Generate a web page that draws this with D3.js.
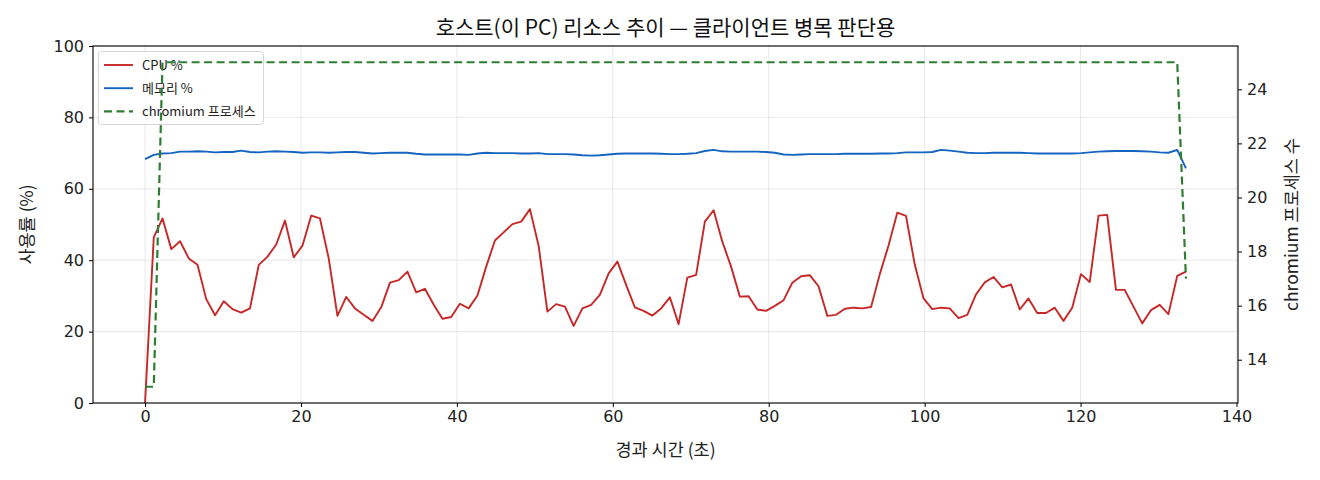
<!DOCTYPE html>
<html><head><meta charset="utf-8">
<script src="https://cdn.jsdelivr.net/npm/d3@7"></script>
<style>
html,body{margin:0;padding:0;background:#fff;}
svg{display:block;font-family:"Noto Sans CJK KR","Noto Sans",sans-serif;}
</style></head>
<body><svg id="c" width="1320" height="480"></svg>
<script>
// ---- data ----
const times = [0,1.12,2.24,3.37,4.49,5.61,6.73,7.85,8.98,10.10,11.22,12.34,13.46,14.59,15.71,16.83,17.95,19.07,20.20,21.32,
22.44,23.56,24.68,25.81,26.93,28.05,29.17,30.29,31.42,32.54,33.66,34.78,35.90,37.03,38.15,39.27,40.39,41.51,42.64,43.76,
44.88,46.00,47.12,48.25,49.37,50.49,51.61,52.73,53.86,54.98,56.10,57.22,58.34,59.47,60.59,61.71,62.83,63.95,65.08,66.20,
67.32,68.44,69.56,70.69,71.81,72.93,74.05,75.17,76.30,77.42,78.54,79.66,80.78,81.91,83.03,84.15,85.27,86.39,87.52,88.64,
89.76,90.88,92.00,93.13,94.25,95.37,96.49,97.61,98.74,99.86,100.98,102.10,103.22,104.35,105.47,106.59,107.71,108.83,109.96,111.08,
112.20,113.32,114.44,115.57,116.69,117.81,118.93,120.05,121.18,122.30,123.42,124.54,125.66,126.79,127.91,129.03,130.15,131.27,132.40,133.52];
const cpu = [0,46.4,51.7,43.1,45.3,40.5,38.7,29.1,24.6,28.5,26.3,25.3,26.5,38.7,41.0,44.4,51.1,40.8,44.1,52.5,
51.7,40.5,24.4,29.7,26.5,24.7,23.0,26.8,33.7,34.4,36.8,31.0,32.0,27.5,23.6,24.1,27.8,26.5,30.1,38.2,
45.5,47.8,50.1,50.8,54.3,44.0,25.6,27.7,27.0,21.6,26.5,27.5,30.3,36.3,39.6,33.1,26.8,25.8,24.5,26.5,
29.6,22.1,35.1,35.9,50.8,54.0,45.2,38.2,29.8,29.9,26.2,25.8,27.2,28.8,33.7,35.5,35.8,32.7,24.4,24.7,
26.4,26.7,26.5,26.9,36.1,44.1,53.3,52.4,38.7,29.3,26.3,26.7,26.5,23.8,24.7,30.4,33.8,35.3,32.4,33.2,
26.2,29.3,25.2,25.2,26.7,23.0,26.7,36.1,33.9,52.5,52.7,31.7,31.7,27.0,22.3,26.0,27.5,24.9,35.6,36.8];
const mem = [68.3,69.5,69.9,70.0,70.4,70.4,70.5,70.4,70.2,70.3,70.3,70.7,70.3,70.2,70.4,70.5,70.4,70.3,70.1,70.2,
70.2,70.1,70.2,70.3,70.3,70.1,69.9,70.0,70.1,70.1,70.1,69.8,69.6,69.6,69.6,69.6,69.6,69.5,69.9,70.1,
70.0,70.0,70.0,69.9,69.9,70.0,69.7,69.7,69.7,69.6,69.4,69.3,69.4,69.6,69.8,69.9,69.9,69.9,69.9,69.8,
69.7,69.7,69.8,70.0,70.6,70.9,70.5,70.4,70.4,70.4,70.4,70.3,70.1,69.6,69.5,69.6,69.7,69.7,69.7,69.7,
69.8,69.8,69.8,69.8,69.9,69.9,70.0,70.2,70.2,70.2,70.3,70.9,70.7,70.4,70.1,70.0,70.0,70.1,70.1,70.1,
70.1,70.0,69.9,69.9,69.9,69.9,69.9,70.0,70.2,70.4,70.5,70.6,70.6,70.6,70.5,70.4,70.2,70.1,70.9,65.7];
const chromium = [13,13,25,25,25,25,25,25,25,25,25,25,25,25,25,25,25,25,25,25,
25,25,25,25,25,25,25,25,25,25,25,25,25,25,25,25,25,25,25,25,
25,25,25,25,25,25,25,25,25,25,25,25,25,25,25,25,25,25,25,25,
25,25,25,25,25,25,25,25,25,25,25,25,25,25,25,25,25,25,25,25,
25,25,25,25,25,25,25,25,25,25,25,25,25,25,25,25,25,25,25,25,
25,25,25,25,25,25,25,25,25,25,25,25,25,25,25,25,25,25,25,17];
const xTicks = [0,20,40,60,80,100,120,140];
const yLeftTicks = [0,20,40,60,80,100];
const yRightTicks = [14,16,18,20,22,24];
const titleText = "호스트(이 PC) 리소스 추이 — 클라이언트 병목 판단용";
const xLabel = "경과 시간 (초)";
const yLeftLabel = "사용률 (%)";
const yRightLabel = "chromium 프로세스 수";
const seriesNames = ["CPU %","메모리 %","chromium 프로세스"];
const colors = {cpu:"#c62828", mem:"#1565c0", chr:"#2e7d32"};

// ---- layout ----
const L=93, R=1238, T=46, B=403;
const svg = d3.select("#c");
const tMin = d3.min(times), tMax = d3.max(times), tPad=(tMax-tMin)*0.05;
const x = d3.scaleLinear().domain([tMin-tPad, tMax+tPad]).range([L,R]);
const yL = d3.scaleLinear().domain([0,100]).range([B,T]);
const cMin=d3.min(chromium), cMax=d3.max(chromium), cPad=(cMax-cMin)*0.05;
const yR = d3.scaleLinear().domain([cMin-cPad, cMax+cPad]).range([B,T]);

// grid
const grid = svg.append("g");
grid.selectAll("line.gx").data(xTicks).join("line")
  .attr("x1",d=>x(d)).attr("x2",d=>x(d)).attr("y1",T).attr("y2",B)
  .attr("stroke","#b0b0b0").attr("stroke-opacity",0.35).attr("stroke-width",0.8);
grid.selectAll("line.gy").data(yLeftTicks).join("line")
  .attr("x1",L).attr("x2",R).attr("y1",d=>yL(d)).attr("y2",d=>yL(d))
  .attr("stroke","#b0b0b0").attr("stroke-opacity",0.35).attr("stroke-width",0.8);

svg.append("defs").append("clipPath").attr("id","pc")
  .append("rect").attr("x",L).attr("y",T).attr("width",R-L).attr("height",B-T);

const idx = d3.range(times.length);
const lineL = arr => d3.line().x(i=>x(times[i])).y(i=>yL(arr[i]))(idx);
const plot = svg.append("g").attr("clip-path","url(#pc)");
plot.append("path").attr("d",lineL(cpu)).attr("fill","none").attr("stroke",colors.cpu).attr("stroke-width",1.9).attr("stroke-linejoin","round");
plot.append("path").attr("d",lineL(mem)).attr("fill","none").attr("stroke",colors.mem).attr("stroke-width",1.9).attr("stroke-linejoin","round");

// legend
const lg = svg.append("g");
lg.append("rect").attr("x",98.5).attr("y",51.5).attr("width",165).attr("height",73).attr("rx",3)
  .attr("fill","#fff").attr("fill-opacity",0.8).attr("stroke","#d6d6d6").attr("stroke-width",1);
const legItems = [
  {name:seriesNames[0], c:colors.cpu, dash:null},
  {name:seriesNames[1], c:colors.mem, dash:null},
  {name:seriesNames[2], c:colors.chr, dash:"8,4.5"}];
legItems.forEach((it,k)=>{
  const yy = 65 + k*23.2;
  lg.append("line").attr("x1",104).attr("x2",133).attr("y1",yy).attr("y2",yy)
    .attr("stroke",it.c).attr("stroke-width",it.dash?2.2:1.9).attr("stroke-dasharray",it.dash);
  lg.append("text").attr("x",142).attr("y",yy).attr("dy","0.35em").attr("font-size",13).attr("fill","#222").text(it.name);
});

// chromium on secondary axis (drawn above legend)
const plot2 = svg.append("g").attr("clip-path","url(#pc)");
plot2.append("path").attr("d", d3.line().x(i=>x(times[i])).y(i=>yR(chromium[i]))(idx))
  .attr("fill","none").attr("stroke",colors.chr).attr("stroke-width",2.2).attr("stroke-dasharray","8,4.5");

// axes
const fs = 16;
const ax = svg.append("g").attr("transform",`translate(0,${B})`)
  .call(d3.axisBottom(x).tickValues(xTicks).tickSize(4).tickPadding(4).tickFormat(d3.format("d")));
const ayl = svg.append("g").attr("transform",`translate(${L},0)`)
  .call(d3.axisLeft(yL).tickValues(yLeftTicks).tickSize(4).tickPadding(5).tickFormat(d3.format("d")));
const ayr = svg.append("g").attr("transform",`translate(${R},0)`)
  .call(d3.axisRight(yR).tickValues(yRightTicks).tickSize(4).tickPadding(5).tickFormat(d3.format("d")));
[ax,ayl,ayr].forEach(g=>{
  g.select(".domain").remove();
  g.selectAll("line").attr("stroke","#000").attr("stroke-width",1);
  g.selectAll("text").attr("font-size",fs).attr("fill","#222").attr("font-family",'"DejaVu Sans","Noto Sans",sans-serif');
});
// frame
svg.append("rect").attr("x",L).attr("y",T).attr("width",R-L).attr("height",B-T)
  .attr("fill","none").attr("stroke","#000").attr("stroke-width",1.1);

// labels
svg.append("text").attr("x",(L+R)/2).attr("y",28).attr("text-anchor","middle").attr("dy","0.35em")
  .attr("font-size",21).attr("fill","#111").text(titleText);
svg.append("text").attr("x",(L+R)/2).attr("y",450).attr("text-anchor","middle").attr("dy","0.35em")
  .attr("font-size",17.5).attr("fill","#222").text(xLabel);
svg.append("text").attr("transform",`translate(27,${(T+B)/2}) rotate(-90)`).attr("text-anchor","middle").attr("dy","0.35em")
  .attr("font-size",17.5).attr("fill","#222").text(yLeftLabel);
svg.append("text").attr("transform",`translate(1292,${(T+B)/2}) rotate(-90)`).attr("text-anchor","middle").attr("dy","0.35em")
  .attr("font-size",17.5).attr("fill","#222").text(yRightLabel);
</script></body></html>
